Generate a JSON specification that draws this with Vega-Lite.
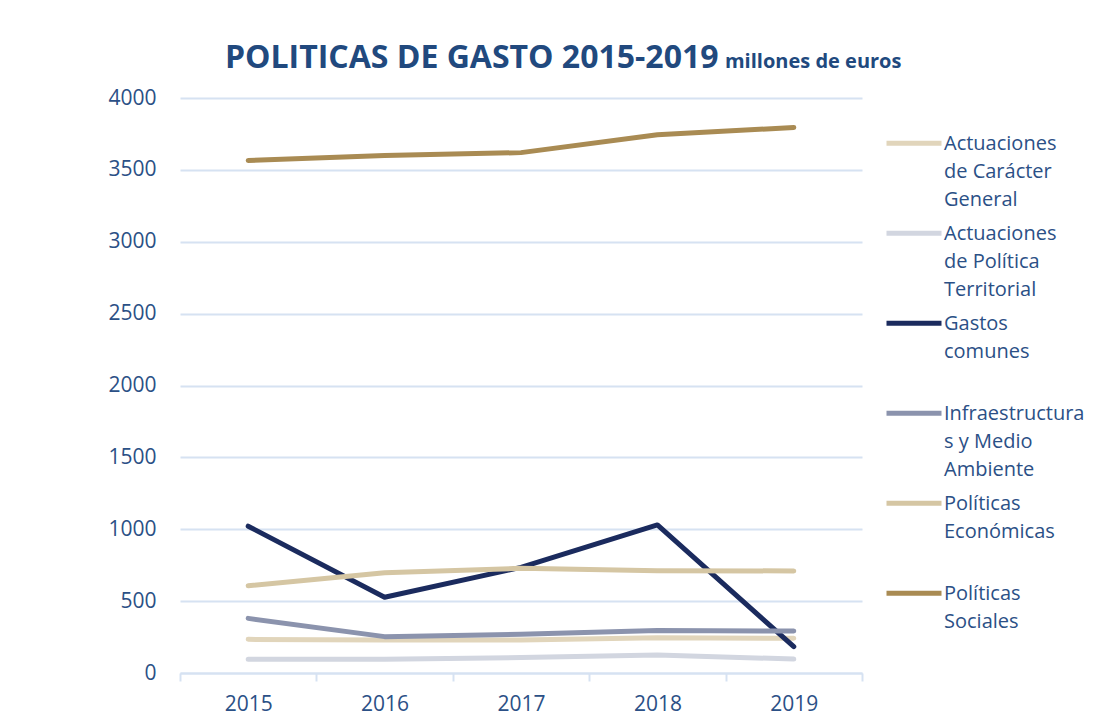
{
  "$schema": "https://vega.github.io/schema/vega-lite/v6.json",
  "width": 682,
  "height": 575,
  "autosize": "none",
  "padding": {"left": 180, "top": 98, "right": 245, "bottom": 44},
  "background": "white",
  "title": {
    "text": "POLITICAS DE GASTO 2015-2019",
    "subtitle": "\u200b\u2003\u2003\u2003\u2003\u2003\u2003\u2003\u2003\u2003\u2003\u2003\u2003\u2003\u2003\u2003\u2003\u2003\u2003\u2003\u2003\u2003\u2003\u2003\u2003\u2003millones de euros",
    "anchor": "start",
    "dx": 117,
    "offset": 12,
    "font": "Open Sans",
    "fontSize": 32,
    "fontWeight": "bold",
    "color": "#21497e",
    "subtitleFont": "Open Sans",
    "subtitleFontSize": 20,
    "subtitleFontWeight": "bold",
    "subtitleColor": "#21497e",
    "subtitlePadding": -23
  },
  "data": {
    "values": [
      {"year": "2015", "serie": "Actuaciones de Carácter General", "valor": 234},
      {"year": "2016", "serie": "Actuaciones de Carácter General", "valor": 230},
      {"year": "2017", "serie": "Actuaciones de Carácter General", "valor": 230},
      {"year": "2018", "serie": "Actuaciones de Carácter General", "valor": 246},
      {"year": "2019", "serie": "Actuaciones de Carácter General", "valor": 241},
      {"year": "2015", "serie": "Actuaciones de Política Territorial", "valor": 95},
      {"year": "2016", "serie": "Actuaciones de Política Territorial", "valor": 95},
      {"year": "2017", "serie": "Actuaciones de Política Territorial", "valor": 107},
      {"year": "2018", "serie": "Actuaciones de Política Territorial", "valor": 125},
      {"year": "2019", "serie": "Actuaciones de Política Territorial", "valor": 97},
      {"year": "2015", "serie": "Gastos comunes", "valor": 1021},
      {"year": "2016", "serie": "Gastos comunes", "valor": 527},
      {"year": "2017", "serie": "Gastos comunes", "valor": 735},
      {"year": "2018", "serie": "Gastos comunes", "valor": 1030},
      {"year": "2019", "serie": "Gastos comunes", "valor": 183},
      {"year": "2015", "serie": "Infraestructuras y Medio Ambiente", "valor": 380},
      {"year": "2016", "serie": "Infraestructuras y Medio Ambiente", "valor": 253},
      {"year": "2017", "serie": "Infraestructuras y Medio Ambiente", "valor": 269},
      {"year": "2018", "serie": "Infraestructuras y Medio Ambiente", "valor": 296},
      {"year": "2019", "serie": "Infraestructuras y Medio Ambiente", "valor": 292},
      {"year": "2015", "serie": "Políticas Económicas", "valor": 607},
      {"year": "2016", "serie": "Políticas Económicas", "valor": 698},
      {"year": "2017", "serie": "Políticas Económicas", "valor": 728},
      {"year": "2018", "serie": "Políticas Económicas", "valor": 712},
      {"year": "2019", "serie": "Políticas Económicas", "valor": 710},
      {"year": "2015", "serie": "Políticas Sociales", "valor": 3565},
      {"year": "2016", "serie": "Políticas Sociales", "valor": 3600},
      {"year": "2017", "serie": "Políticas Sociales", "valor": 3620},
      {"year": "2018", "serie": "Políticas Sociales", "valor": 3745},
      {"year": "2019", "serie": "Políticas Sociales", "valor": 3795}
    ]
  },
  "mark": {"type": "line", "strokeWidth": 5, "strokeCap": "round", "strokeJoin": "round"},
  "encoding": {
    "x": {
      "field": "year",
      "type": "ordinal",
      "bandPosition": 0.5,
      "scale": {"type": "band", "paddingInner": 0, "paddingOuter": 0},
      "axis": {
        "title": null,
        "labelAngle": 0,
        "labelFont": "Open Sans",
        "labelFontSize": 21,
        "labelColor": "#2b5086",
        "tickBand": "extent",
        "tickSize": 8,
        "tickColor": "#d6e2f2",
        "tickWidth": 2,
        "domainColor": "#d6e2f2",
        "domainWidth": 2,
        "labelPadding": 12,
        "grid": false
      }
    },
    "y": {
      "field": "valor",
      "type": "quantitative",
      "scale": {"domain": [0, 4000], "nice": false},
      "axis": {
        "title": null,
        "format": "d",
        "values": [0, 500, 1000, 1500, 2000, 2500, 3000, 3500, 4000],
        "labelFont": "Open Sans",
        "labelFontSize": 21,
        "labelColor": "#2b5086",
        "labelPadding": 24,
        "ticks": false,
        "domain": false,
        "grid": true,
        "gridColor": "#d6e2f2",
        "gridWidth": 2
      }
    },
    "color": {
      "field": "serie",
      "type": "nominal",
      "scale": {
        "domain": ["Actuaciones de Carácter General", "Actuaciones de Política Territorial", "Gastos comunes", "Infraestructuras y Medio Ambiente", "Políticas Económicas", "Políticas Sociales"],
        "range": ["#e1d5bb", "#d2d6e0", "#1b2b5e", "#8b93ad", "#d5c6a3", "#a98b53"]
      },
      "legend": {
        "title": null,
        "orient": "none",
        "legendX": 704,
        "legendY": 22,
        "padding": 0,
        "symbolType": "M-1,-0.25L1,-0.25",
        "symbolStrokeWidth": 5,
        "symbolSize": 3025,
        "labelFont": "Open Sans",
        "labelFontSize": 20,
        "labelColor": "#2b5086",
        "labelBaseline": "alphabetic",
        "labelOffset": 0,
        "labelLimit": 220,
        "rowPadding": 0,
        "labelExpr": "datum.label == 'Actuaciones de Carácter General' ? ['Actuaciones', 'de Carácter', 'General'] : datum.label == 'Actuaciones de Política Territorial' ? ['Actuaciones', 'de Política', 'Territorial'] : datum.label == 'Gastos comunes' ? ['Gastos', 'comunes', ''] : datum.label == 'Infraestructuras y Medio Ambiente' ? ['Infraestructura', 's y Medio', 'Ambiente'] : datum.label == 'Políticas Económicas' ? ['Políticas', 'Económicas', ''] : ['Políticas', 'Sociales', '']"
      }
    }
  },
  "config": {
    "view": {"stroke": null},
    "style": {"guide-label": {"lineHeight": 27.8}}
  }
}
